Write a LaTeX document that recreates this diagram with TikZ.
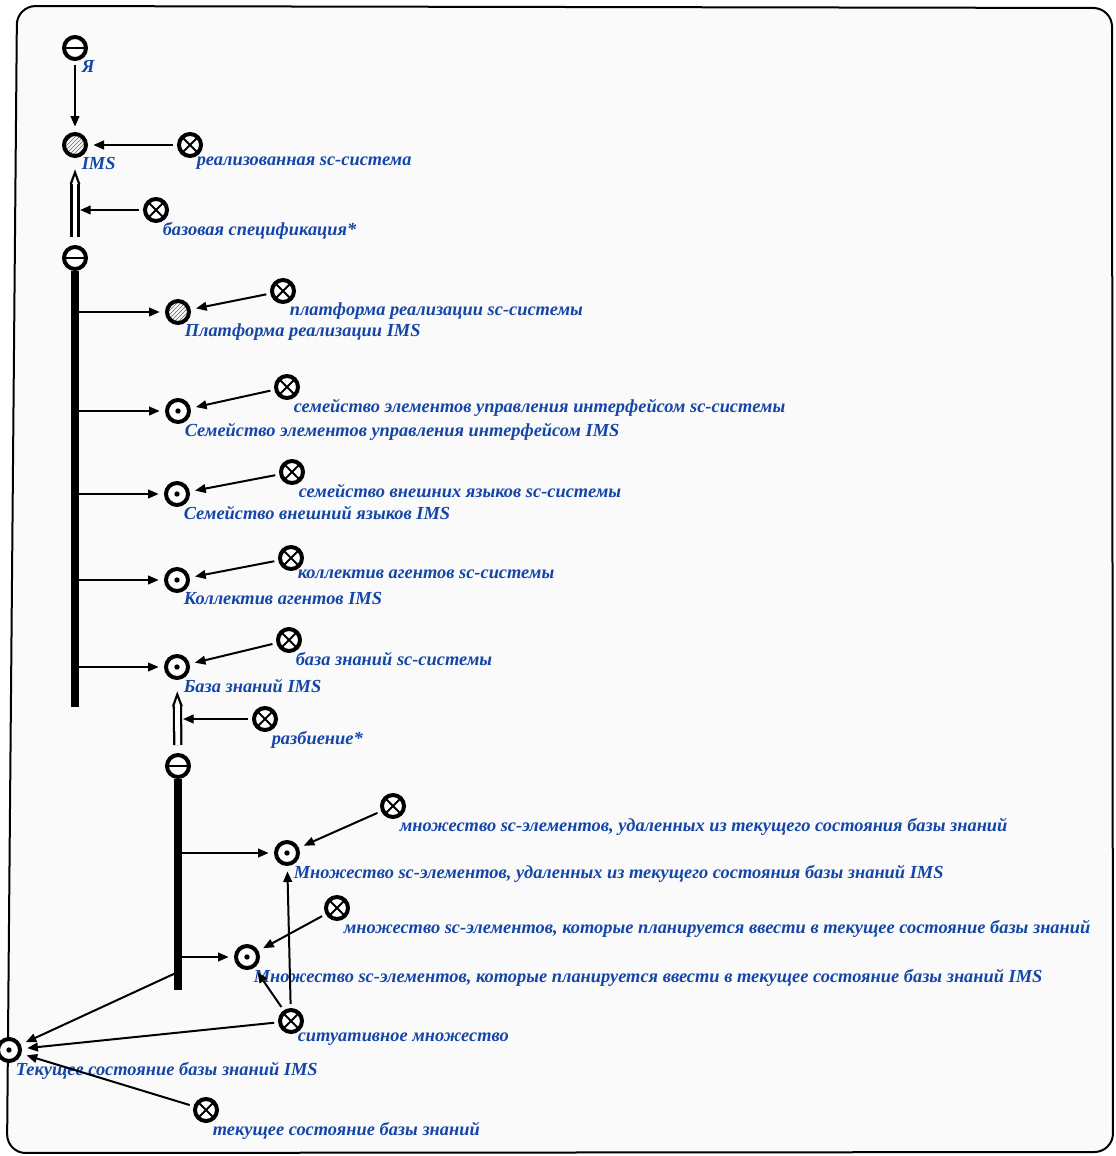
\documentclass[tikz,border=0pt]{standalone}
\usepackage{fontspec}
\setmainfont{Liberation Serif}
\usetikzlibrary{arrows.meta,patterns}
\definecolor{SCBlue}{HTML}{1446A8}
\definecolor{SCPaper}{HTML}{FAFAFA}

\begin{document}
\begin{tikzpicture}[
    x=0.75pt, y=-0.75pt,
    lbl/.style={font=\fontsize{13.8pt}{15pt}\selectfont\bfseries\itshape, text=SCBlue, inner sep=0pt, label distance=0pt, yshift=-2pt, xshift=-2pt},
    sc/.style={circle, draw, line width=3pt, minimum size=16.5pt, inner sep=0pt, fill=white},
    tuplenode/.style={sc, path picture={\draw[line width=2.2pt] (path picture bounding box.west) -- (path picture bounding box.east);}},
    classnode/.style={sc, path picture={\fill[black] (path picture bounding box.center) circle (2pt);}},
    relnode/.style={sc, path picture={\draw[line width=1.4pt] (path picture bounding box.north west) -- (path picture bounding box.south east) (path picture bounding box.north east) -- (path picture bounding box.south west);}},
    hatchnode/.style={sc, pattern=north east lines, pattern color=gray!80!black},
    arc/.style={-{Triangle[length=8pt,width=6.5pt]}, line width=1.5pt, shorten >=4pt, shorten <=3pt},
    bus/.style={line width=5.4pt},
    commonarc/.style={draw=white, line width=3.6pt, -{Triangle[length=7pt,width=3.6pt]}, shorten >=12.5pt, shorten <=6pt,
      preaction={draw=black, line width=7pt, -{Triangle[length=12pt,width=7pt]}, shorten >=7.5pt}}
  ]
  \useasboundingbox (0,0) rectangle (1116,1156);
  \draw[line width=1.5pt, rounded corners=14pt, fill=SCPaper] (17,6) -- (1112,8) -- (1113,1152) -- (7,1153) -- cycle;

  % system
  \node[tuplenode, label={[lbl]south east:Я}] (me) at (75,48) {};
  \node[hatchnode, label={[lbl]south east:IMS}] (ims) at (75,145) {};
  \node[relnode, label={[lbl]south east:реализованная sc-система}] (realized) at (190,145) {};
  \node[relnode, label={[lbl]south east:базовая спецификация*}] (basespec) at (156,210) {};
  \node[tuplenode] (tuple1) at (75,258) {};
  \coordinate (arc1) at (80,210);
  \coordinate (bus1end) at (75,707);

  % components
  \node[hatchnode, label={[lbl]south east:Платформа реализации IMS}] (platform) at (178,312) {};
  \node[relnode, label={[lbl]south east:платформа реализации sc-системы}] (platformrel) at (283,291) {};
  \node[classnode, label={[lbl]south east:Семейство элементов управления интерфейсом IMS}] (family) at (178,411) {};
  \node[relnode, label={[lbl]south east:семейство элементов управления интерфейсом sc-системы}] (familyrel) at (287,387) {};
  \node[classnode, label={[lbl]south east:Семейство внешний языков IMS}] (langs) at (177,494) {};
  \node[relnode, label={[lbl]south east:семейство внешних языков sc-системы}] (langsrel) at (292,472) {};
  \node[classnode, label={[lbl]south east:Коллектив агентов IMS}] (agents) at (177,580) {};
  \node[relnode, label={[lbl]south east:коллектив агентов sc-системы}] (agentsrel) at (291,558) {};
  \node[classnode, label={[lbl]south east:База знаний IMS}] (kb) at (177,667) {};
  \node[relnode, label={[lbl]south east:база знаний sc-системы}] (kbrel) at (289,640) {};

  % knowledge base partition
  \node[relnode, label={[lbl]south east:разбиение*}] (partition) at (265,719) {};
  \node[tuplenode] (tuple2) at (178,766) {};
  \coordinate (arc2) at (183,719);
  \coordinate (bus2end) at (178,990);
  \coordinate (bus2arm) at (178,972);
  \node[classnode, label={[lbl]south east:{Множество sc-элементов, удаленных из текущего состояния базы знаний IMS}}] (deleted) at (287,853) {};
  \node[relnode, label={[lbl]south east:{множество sc-элементов, удаленных из текущего состояния базы знаний}}] (deletedrel) at (393,806) {};
  \node[classnode, label={[lbl]south east:{Множество sc-элементов, которые планируется ввести в текущее состояние базы знаний IMS}}] (planned) at (247,957) {};
  \node[relnode, label={[lbl]south east:{множество sc-элементов, которые планируется ввести в текущее состояние базы знаний}}] (plannedrel) at (337,908) {};
  \node[relnode, label={[lbl]south east:ситуативное множество}] (situative) at (291,1021) {};
  \node[classnode, label={[lbl]south east:Текущее состояние базы знаний IMS}] (current) at (9,1050) {};
  \node[relnode, label={[lbl]south east:текущее состояние базы знаний}] (currentrel) at (206,1110) {};

  % connectors
  \draw[arc] (me) -- (ims);
  \draw[arc] (realized) -- (ims);
  \draw[commonarc] (tuple1) -- (ims);
  \draw[arc, shorten >=0pt] (basespec) -- (arc1);
  \draw[bus] (tuple1.south) -- (bus1end);
  \foreach \item/\rel in {platform/platformrel, family/familyrel, langs/langsrel, agents/agentsrel, kb/kbrel}{
    \draw[arc] (tuple1 |- \item) -- (\item);
    \draw[arc] (\rel) -- (\item);
  }
  \draw[commonarc] (tuple2) -- (kb);
  \draw[arc, shorten >=0pt] (partition) -- (arc2);
  \draw[bus] (tuple2.south) -- (bus2end);
  \draw[arc] (tuple2 |- deleted) -- (deleted);
  \draw[arc] (tuple2 |- planned) -- (planned);
  \draw[arc] (deletedrel) -- (deleted);
  \draw[arc] (plannedrel) -- (planned);
  \draw[arc] (situative) -- (deleted);
  \draw[arc] (situative) -- (planned);
  \draw[arc] (situative) -- (current);
  \draw[arc] (bus2arm) -- (current);
  \draw[arc] (currentrel) -- (current);
\end{tikzpicture}
\end{document}
